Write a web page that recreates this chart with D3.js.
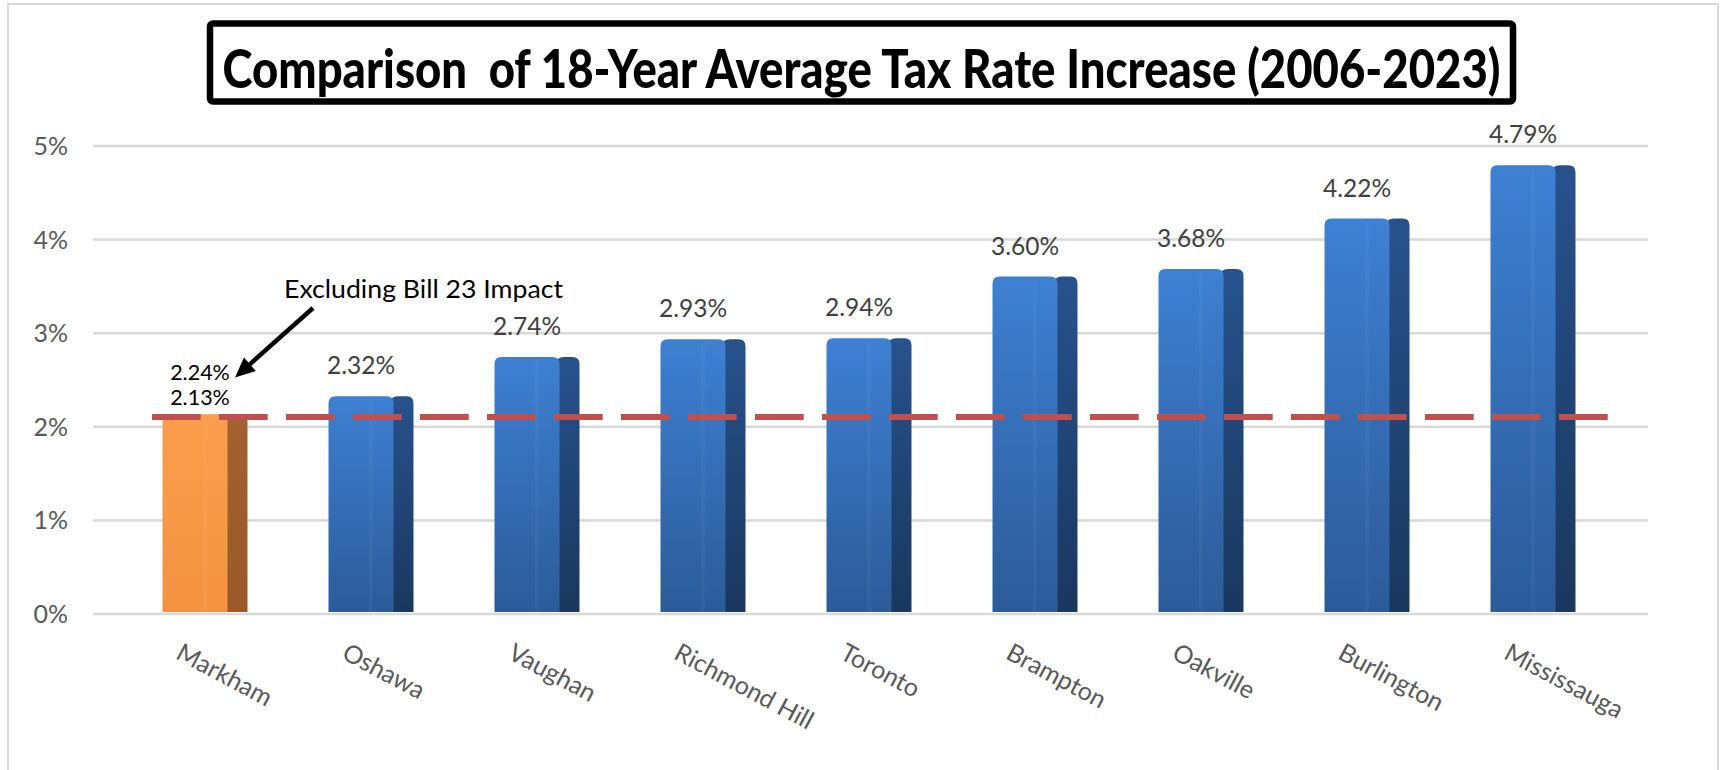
<!DOCTYPE html>
<html>
<head>
<meta charset="utf-8">
<script src="https://cdn.jsdelivr.net/npm/d3@7"></script>
<style>
  html, body { margin: 0; padding: 0; background: #ffffff; }
  svg { display: block; }
  text { font-family: Lato, "Open Sans", sans-serif; }
</style>
</head>
<body>
<svg id="chart" width="1723" height="770"></svg>
<script>
// ---- data ----
const categories = ["Markham", "Oshawa", "Vaughan", "Richmond Hill", "Toronto", "Brampton", "Oakville", "Burlington", "Mississauga"];
const values = [2.13, 2.32, 2.74, 2.93, 2.94, 3.60, 3.68, 4.22, 4.79];
const valueLabels = ["2.13%", "2.32%", "2.74%", "2.93%", "2.94%", "3.60%", "3.68%", "4.22%", "4.79%"];
const highlightCategory = "Markham";
const altValueLabel = "2.24%";
const referenceValue = 2.1;
const yTicks = [0, 1, 2, 3, 4, 5];
const yTickLabels = ["0%", "1%", "2%", "3%", "4%", "5%"];
const titleText = "Comparison  of 18-Year Average Tax Rate Increase (2006-2023)";
const annotationText = "Excluding Bill 23 Impact";

const svg = d3.select("#chart");

// outer chart border
svg.append("rect").attr("x", 8).attr("y", 4).attr("width", 1710).attr("height", 800)
  .attr("fill", "#fff").attr("stroke", "#d9d9d9").attr("stroke-width", 2);

// scales
const y = d3.scaleLinear().domain([0, 5]).range([613.5, 145.5]);
const x = d3.scaleBand().domain(categories).range([122, 1616]).paddingInner(0.488).paddingOuter(0.244);
const bw = x.bandwidth();
const frontW = bw * 0.765;
const sideW = bw - frontW;

// defs: gradients
const defs = svg.append("defs");
function grad(id, c0, c1) {
  const g = defs.append("linearGradient").attr("id", id).attr("x1", 0).attr("y1", 0).attr("x2", 0).attr("y2", 1);
  g.append("stop").attr("offset", "0%").attr("stop-color", c0);
  g.append("stop").attr("offset", "100%").attr("stop-color", c1);
}
grad("blueFront", "#3e80d3", "#2c5b98");
grad("blueSide", "#27528c", "#1a375e");
grad("orangeFront", "#fa9d4c", "#f49443");
grad("orangeSide", "#a2622e", "#975a28");

// gridlines + y axis
const gridX0 = 93, gridX1 = 1648;
const yAxis = d3.axisLeft(y).tickValues(yTicks)
  .tickFormat((d, i) => yTickLabels[i])
  .tickSizeInner(-(gridX1 - gridX0)).tickSizeOuter(0).tickPadding(25);
const ya = svg.append("g").attr("transform", `translate(${gridX0},0)`).call(yAxis);
ya.select(".domain").remove();
ya.selectAll(".tick line").attr("stroke", "#d9d9d9").attr("stroke-width", 2.5);
ya.selectAll(".tick text").attr("fill", "#595959").attr("font-size", 25)
  .attr("font-family", "Lato, sans-serif").attr("dy", "0.36em");

// bar path with rounded top corners
function topRounded(x0, y0, w, h, r) {
  r = Math.min(r, w / 2, h);
  return `M${x0},${y0 + h} L${x0},${y0 + r} Q${x0},${y0} ${x0 + r},${y0} L${x0 + w - r},${y0} Q${x0 + w},${y0} ${x0 + w},${y0 + r} L${x0 + w},${y0 + h} Z`;
}

const barsG = svg.append("g");
const bars = barsG.selectAll("g.bar").data(categories).join("g").attr("class", "bar");
bars.append("path")
  .attr("d", (d, i) => topRounded(x(d) + frontW - 3, y(values[i]), sideW + 3, y(0) - 1.5 - y(values[i]), 7))
  .attr("fill", d => d === highlightCategory ? "url(#orangeSide)" : "url(#blueSide)");
bars.append("path")
  .attr("d", (d, i) => topRounded(x(d), y(values[i]), frontW, y(0) - 1.5 - y(values[i]), 7))
  .attr("fill", d => d === highlightCategory ? "url(#orangeFront)" : "url(#blueFront)");
// subtle highlight stripe on front faces
bars.append("rect")
  .attr("x", d => x(d) + frontW * 0.62).attr("width", frontW * 0.06)
  .attr("y", (d, i) => y(values[i]) + 4).attr("height", (d, i) => y(0) - 6 - y(values[i]))
  .attr("fill", "#ffffff").attr("opacity", 0.04);

// data labels (non-highlight)
svg.append("g").selectAll("text").data(categories.filter(c => c !== highlightCategory)).join("text")
  .attr("x", d => x(d) + frontW / 2)
  .attr("y", d => y(values[categories.indexOf(d)]) - 22)
  .attr("text-anchor", "middle").attr("font-size", 24.5).attr("fill", "#404040")
  .text(d => valueLabels[categories.indexOf(d)]);

// highlight labels
const hi = categories.indexOf(highlightCategory);
const hx = x(highlightCategory) + frontW / 2 + 5;
svg.append("text").attr("x", hx).attr("y", 380).attr("text-anchor", "middle")
  .attr("font-size", 21.5).attr("fill", "#000").text(altValueLabel);
svg.append("text").attr("x", hx).attr("y", 405).attr("text-anchor", "middle")
  .attr("font-size", 21.5).attr("fill", "#000").text(valueLabels[hi]);

// reference dashed line
svg.append("line").attr("x1", 152).attr("x2", 1625)
  .attr("y1", y(referenceValue)).attr("y2", y(referenceValue))
  .attr("stroke", "#c0504d").attr("stroke-width", 6).attr("stroke-dasharray", "48.7 18.3");

// x axis labels
const xAxis = d3.axisBottom(x).tickSize(0).tickPadding(0);
const xa = svg.append("g").attr("transform", `translate(0,${y(0)})`).call(xAxis);
xa.select(".domain").remove();
xa.selectAll(".tick text")
  .attr("font-size", 25).attr("fill", "#595959").attr("font-family", "Lato, sans-serif")
  .attr("text-anchor", "start").attr("dy", 0).attr("y", 0)
  .attr("transform", `translate(${-bw / 2 + 12},${658 - 613.5}) rotate(28)`);

// annotation
svg.append("text").attr("x", 284).attr("y", 298).attr("font-size", 25).attr("fill", "#000")
  .attr("textLength", 279).attr("lengthAdjust", "spacingAndGlyphs").text(annotationText);
const ax0 = 313, ay0 = 308, ax1 = 235, ay1 = 377.5;
const L = Math.hypot(ax1 - ax0, ay1 - ay0), ux = (ax1 - ax0) / L, uy = (ay1 - ay0) / L;
const hl = 20, hw = 9;
svg.append("line").attr("x1", ax0).attr("y1", ay0).attr("x2", ax1 - ux * hl * 0.8).attr("y2", ay1 - uy * hl * 0.8)
  .attr("stroke", "#000").attr("stroke-width", 4.5);
svg.append("polygon").attr("points", [
  [ax1, ay1],
  [ax1 - ux * hl - uy * hw, ay1 - uy * hl + ux * hw],
  [ax1 - ux * hl + uy * hw, ay1 - uy * hl - ux * hw]
].map(p => p.join(",")).join(" ")).attr("fill", "#000");

// title box
svg.append("rect").attr("x", 210).attr("y", 23.5).attr("width", 1303).attr("height", 78)
  .attr("rx", 3).attr("fill", "#fff").attr("stroke", "#000").attr("stroke-width", 6.5);
svg.append("text").attr("x", 861.5).attr("y", 88).attr("text-anchor", "middle")
  .attr("font-size", 53).attr("font-weight", 900).attr("fill", "#000")
  .style("white-space", "pre")
  .attr("textLength", 1278).attr("lengthAdjust", "spacingAndGlyphs")
  .text(titleText);
</script>
</body>
</html>
